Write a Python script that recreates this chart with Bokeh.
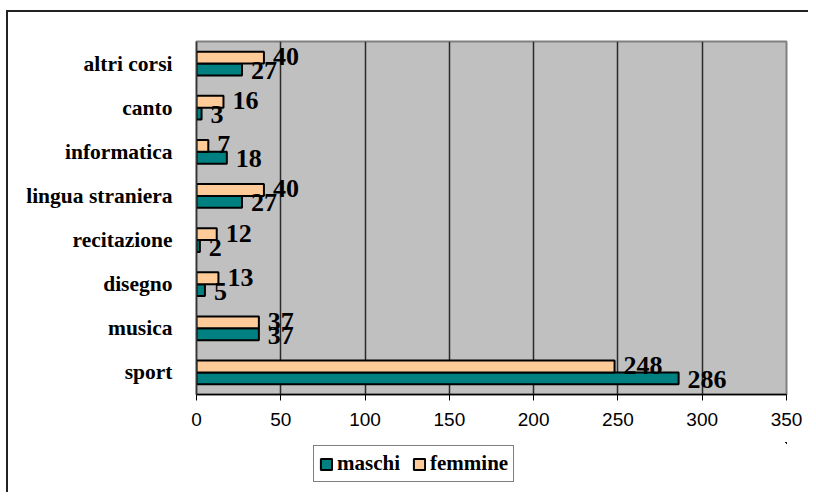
from bokeh.plotting import figure
from bokeh.layouts import column
from bokeh.models import ColumnDataSource, LabelSet, Legend, LegendItem, FactorRange, FixedTicker
from bokeh.transform import dodge
from bokeh.embed import file_html
from bokeh.resources import INLINE

categories = ["sport", "musica", "disegno", "recitazione", "lingua straniera",
              "informatica", "canto", "altri corsi"]
maschi = [286, 37, 5, 2, 27, 18, 3, 27]
femmine = [248, 37, 13, 12, 40, 7, 16, 40]
x_ticks = [0, 50, 100, 150, 200, 250, 300, 350]
series_names = ["maschi", "femmine"]
series_colors = ["#008080", "#FFCC99"]

src = ColumnDataSource(dict(cat=categories, maschi=maschi, femmine=femmine,
                            ml=[str(v) for v in maschi], fl=[str(v) for v in femmine]))

p = figure(width=800, height=430, y_range=FactorRange(*categories), x_range=(0, 350),
           output_backend="svg", toolbar_location=None,
           min_border_left=188, min_border_right=22, min_border_top=29, min_border_bottom=48)

p.background_fill_color = "#C0C0C0"
p.border_fill_color = "white"
p.outline_line_color = "#808080"
p.outline_line_width = 2

bh = 0.27
p.hbar(y=dodge("cat", -0.135, range=p.y_range), right="maschi", left=0, height=bh,
       source=src, fill_color=series_colors[0], line_color="black", line_width=2)
p.hbar(y=dodge("cat", 0.135, range=p.y_range), right="femmine", left=0, height=bh,
       source=src, fill_color=series_colors[1], line_color="black", line_width=2)

lbl_kw = dict(text_font="Liberation Serif", text_font_style="bold", text_font_size="26px",
              text_baseline="middle", x_offset=9, text_color="black")
p.add_layout(LabelSet(x="maschi", y=dodge("cat", -0.135, range=p.y_range), text="ml",
                      source=src, y_offset=-1, **lbl_kw))
p.add_layout(LabelSet(x="femmine", y=dodge("cat", 0.135, range=p.y_range), text="fl",
                      source=src, y_offset=1, **lbl_kw))

p.xaxis.ticker = FixedTicker(ticks=x_ticks)
p.xaxis.axis_line_color = "black"
p.xaxis.axis_line_width = 1.5
p.xaxis.major_tick_out = 6
p.xaxis.major_tick_in = 0
p.xaxis.minor_tick_line_color = None
p.xaxis.major_tick_line_color = "black"
p.xaxis.major_label_text_font = "Liberation Sans"
p.xaxis.major_label_text_font_size = "19px"
p.xaxis.major_label_text_color = "black"
p.xaxis.major_label_standoff = 12

p.yaxis.axis_line_color = "#333333"
p.yaxis.axis_line_width = 1.5
p.yaxis.major_tick_line_color = None
p.yaxis.major_label_text_font = "Liberation Serif"
p.yaxis.major_label_text_font_style = "bold"
p.yaxis.major_label_text_font_size = "21.5px"
p.yaxis.major_label_text_color = "black"
p.yaxis.major_label_standoff = 18

p.xgrid.grid_line_color = "#2a2a2a"
p.xgrid.grid_line_width = 1.5
p.ygrid.grid_line_color = None

# legend strip below the chart (its glyphs sit outside this strip's visible range)
lf = figure(width=800, height=50, x_range=(0, 1), y_range=(0, 1),
            output_backend="svg", toolbar_location=None, min_border=0)
lf.axis.visible = False
lf.grid.visible = False
lf.outline_line_color = None
lf.background_fill_color = "white"
lf.border_fill_color = "white"

items = []
for name, col in zip(series_names, series_colors):
    r = lf.hbar(y=name, right=name, left=name, height=0, source=src, fill_color=col,
                line_color="black", line_width=2)
    items.append(LegendItem(label=name, renderers=[r]))

legend = Legend(items=items, location=(117, 10), orientation="horizontal")
legend.label_text_font = "Liberation Serif"
legend.label_text_font_style = "bold"
legend.label_text_font_size = "21px"
legend.label_text_color = "black"
legend.glyph_width = 14
legend.glyph_height = 14
legend.label_standoff = 4
legend.spacing = 12
legend.padding = 5
legend.margin = 0
legend.border_line_color = "black"
legend.border_line_width = 1
legend.background_fill_color = "white"
legend.background_fill_alpha = 1
lf.add_layout(legend, "center")

layout = column(p, lf, spacing=0)
layout.styles = {"border-top": "2px solid #222", "border-left": "2px solid #222",
                 "margin-left": "6px", "margin-top": "10px"}

open("out.html", "w").write(file_html(layout, INLINE))
